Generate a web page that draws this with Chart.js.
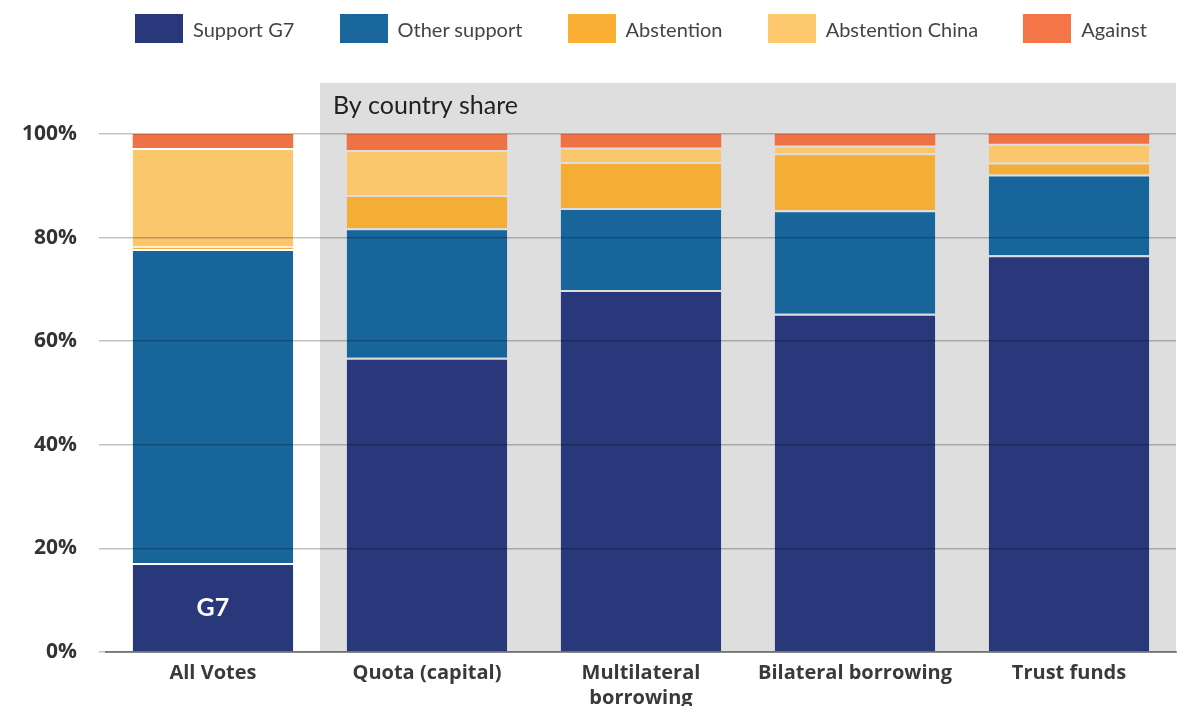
<!DOCTYPE html>
<html lang="en">
<head>
    <meta charset="UTF-8">
    <title>Votes by country share</title>
    <script src="https://cdn.jsdelivr.net/npm/chart.js@4.4.1/dist/chart.umd.min.js"></script>
    <style>
        body {
            margin: 0;
            background: #fff;
            font-family: Lato, "Open Sans", sans-serif;
        }
        .wrap {
            position: relative;
            width: 1180px;
            height: 706px;
            overflow: hidden;
        }
        .legend {
            position: absolute;
            top: 14px;
            left: 135px;
            width: 1012px;
            display: flex;
            justify-content: space-between;
            align-items: center;
            z-index: 2;
        }
        .legend-item {
            display: flex;
            align-items: center;
            font-size: 20px;
            color: #444;
        }
        .legend-box {
            width: 48px;
            height: 29px;
            margin-right: 10px;
        }
        canvas {
            position: absolute;
            top: 0;
            left: 0;
        }
    </style>
</head>
<body>
    <div class="wrap">
        <div class="legend" id="legend"></div>
        <canvas id="votesChart" width="1180" height="712"></canvas>
    </div>

    <script>
        // categories and series (percent of votes)
        const categories = ['All Votes', 'Quota (capital)', ['Multilateral', 'borrowing'], 'Bilateral borrowing', 'Trust funds'];
        const supportG7 = [17.2, 56.8, 69.9, 65.3, 76.6];
        const otherSupport = [60.6, 25.0, 15.8, 20.0, 15.6];
        const abstention = [0.5, 6.4, 8.9, 11.0, 2.3];
        const abstentionChina = [19.0, 8.7, 2.8, 1.5, 3.6];
        const against = [2.7, 3.1, 2.6, 2.2, 1.9];
        const yTicks = [0, 20, 40, 60, 80, 100];

        const seriesNames = ['Support G7', 'Other support', 'Abstention', 'Abstention China', 'Against'];
        const barColors = ['#29377b', '#17659b', '#f4ad35', '#fbc76d', '#ee7243'];
        const legendColors = ['#29377b', '#18669c', '#fbaf35', '#fec86c', '#f47548'];

        // html legend
        const legendEl = document.getElementById('legend');
        seriesNames.forEach((name, i) => {
            const item = document.createElement('div');
            item.className = 'legend-item';
            item.innerHTML = '<span class="legend-box" style="background:' + legendColors[i] + '"></span>' + name;
            legendEl.appendChild(item);
        });

        const seriesData = [supportG7, otherSupport, abstention, abstentionChina, against];
        const datasets = seriesData.map((vals, i) => ({
            label: seriesNames[i],
            data: vals,
            backgroundColor: barColors[i],
            borderColor: 'rgba(0,0,0,0)',
            borderWidth: i === seriesData.length - 1 ? 0 : { top: 2, left: 0, right: 0, bottom: 0 },
            borderSkipped: 'start',
            barPercentage: 0.75,
            categoryPercentage: 1.0
        }));

        // grey panel behind the "by country share" bars, plus annotations
        const panelPlugin = {
            id: 'panel',
            beforeDraw(chart) {
                const { ctx, chartArea, scales } = chart;
                const x0 = (scales.x.getPixelForValue(0) + scales.x.getPixelForValue(1)) / 2;
                const top = chartArea.top - 51;
                ctx.save();
                ctx.fillStyle = '#dedede';
                ctx.fillRect(x0, top, chartArea.right - x0, chartArea.bottom - top);
                ctx.fillStyle = '#222';
                ctx.font = '25px Lato, "Open Sans", sans-serif';
                ctx.textBaseline = 'middle';
                ctx.fillText('By country share', x0 + 13, top + 23);
                ctx.restore();
            },
            afterDatasetsDraw(chart) {
                const { ctx } = chart;
                const bar = chart.getDatasetMeta(0).data[0];
                ctx.save();
                ctx.fillStyle = '#fff';
                ctx.font = 'bold 25px Lato, "Open Sans", sans-serif';
                ctx.textAlign = 'center';
                ctx.textBaseline = 'middle';
                ctx.fillText('G7', bar.x, (bar.y + bar.base) / 2 + 1);
                ctx.restore();
            }
        };

        new Chart(document.getElementById('votesChart'), {
            type: 'bar',
            data: { labels: categories, datasets: datasets },
            plugins: [panelPlugin],
            options: {
                responsive: false,
                animation: false,
                layout: { padding: { top: 134, left: 0, right: 4, bottom: 0 } },
                plugins: {
                    legend: { display: false },
                    tooltip: { enabled: false }
                },
                scales: {
                    x: {
                        stacked: true,
                        grid: { display: false },
                        border: { color: '#9a9a9a', width: 2 },
                        ticks: {
                            color: '#3a3a3a',
                            padding: 1,
                            maxRotation: 0,
                            autoSkip: false,
                            font: { family: 'Open Sans', size: 20, weight: 'bold', lineHeight: 1.25 }
                        }
                    },
                    y: {
                        stacked: true,
                        min: 0,
                        max: 100,
                        afterBuildTicks(scale) {
                            scale.ticks = yTicks.map(v => ({ value: v }));
                        },
                        grid: {
                            color: 'rgba(0,0,0,0.24)',
                            lineWidth: 1.5,
                            tickLength: 7,
                            z: 1
                        },
                        border: { display: false },
                        ticks: {
                            color: '#333',
                            padding: 22,
                            font: { family: 'Open Sans', size: 21, weight: 'bold' },
                            callback: v => v + '%'
                        }
                    }
                }
            }
        });
    </script>
</body>
</html>
